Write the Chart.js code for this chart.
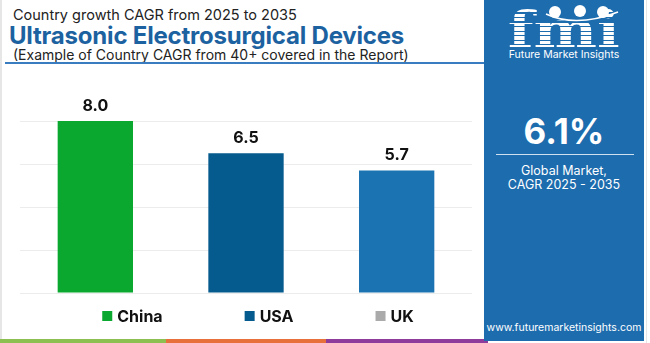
<!DOCTYPE html>
<html>
<head>
<meta charset="utf-8">
<script src="https://cdn.jsdelivr.net/npm/chart.js@4.4.1/dist/chart.umd.min.js"></script>
<style>
  html, body { margin: 0; padding: 0; background: #fff; }
  body { width: 650px; height: 343px; position: relative; overflow: hidden; font-family: Inter, "Open Sans", sans-serif; }
  .frame { position: absolute; left: 0; top: 0; width: 2px; height: 343px; background: #e6e6e6; }
  .head1 { position: absolute; left: 13px; top: 6px; font-size: 14.5px; color: #222; white-space: nowrap; }
  .head2 { position: absolute; left: 9px; top: 21px; font-size: 24px; font-weight: 700; color: #1c62a0; white-space: nowrap; letter-spacing: -0.2px; }
  .head3 { position: absolute; left: 13px; top: 46px; font-size: 14px; color: #222; white-space: nowrap; }
  .rule { position: absolute; left: 5px; top: 62px; width: 479px; height: 2px; background: #3a7cc0; }
  .chart { position: absolute; left: 0; top: 70px; width: 484px; height: 270px; }
  .stripe { position: absolute; top: 339px; height: 4px; }
  .panel { position: absolute; left: 484px; top: 0; width: 160px; height: 341px; background: #1d6cae; color: #fff; text-align: center; }
  .logo { position: absolute; left: 0; width: 160px; top: 5px; text-align: center; }
  .logo span { display: inline-block; font-family: "DejaVu Serif", serif; font-weight: 700; font-size: 50px; line-height: 50px;
          transform: scaleX(1.2); transform-origin: center;
          background: repeating-linear-gradient(180deg, #fff 0 3px, #1d6cae 3px 4.5px); -webkit-background-clip: text; background-clip: text; color: transparent; }
  .marks { position: absolute; left: 0; top: 0; }
  .brand { position: absolute; left: 0; width: 160px; top: 48px; font-size: 10.5px; }
  .big { position: absolute; left: 0; width: 160px; top: 110px; font-size: 35px; font-weight: 700; }
  .sep { position: absolute; left: 12px; width: 138px; top: 154px; height: 1px; background: #cfe0ef; }
  .sub { position: absolute; left: 0; width: 160px; top: 164px; font-size: 12.5px; line-height: 14px; }
  .url { position: absolute; left: 0; width: 160px; top: 321px; font-size: 10.5px; }
  .edge { position: absolute; left: 646px; top: 0; width: 1px; height: 343px; background: #e6e6e6; }
</style>
</head>
<body>
<div class="frame"></div>
<div class="head1">Country growth CAGR from 2025 to 2035</div>
<div class="head2">Ultrasonic Electrosurgical Devices</div>
<div class="head3">(Example of Country CAGR from 40+ covered in the Report)</div>
<div class="rule"></div>

<div class="chart"><canvas id="cagrChart"></canvas></div>

<div class="stripe" style="left:0;width:166px;background:#8cc152;"></div>
<div class="stripe" style="left:166px;width:160px;background:#e8703a;"></div>
<div class="stripe" style="left:326px;width:162px;background:#8e3b9c;"></div>

<div class="panel">
  <div class="logo"><span>fmi</span></div>
  <svg class="marks" width="160" height="30">
    <circle cx="71" cy="12" r="6" fill="#fff"/>
    <circle cx="96" cy="11" r="6" fill="#fff"/>
    <circle cx="119" cy="12" r="6" fill="#fff"/>
    <path d="M62 14 Q92 28 134 12" stroke="#fff" stroke-width="1.5" fill="none"/>
  </svg>
  <div class="brand">Future Market Insights</div>
  <div class="big">6.1%</div>
  <div class="sep"></div>
  <div class="sub">Global Market,<br>CAGR 2025 - 2035</div>
  <div class="url">www.futuremarketinsights.com</div>
</div>
<div class="edge"></div>

<script>
const countries = ['China', 'USA', 'UK'];
const cagr = [8.0, 6.5, 5.7];
const barColors = ['#0aa82e', '#055a8e', '#1b74b1'];
const legendColors = ['#0aa82e', '#055a8e', '#aaaaaa'];

// value labels above each bar
const valueLabels = {
  id: 'valueLabels',
  afterDatasetsDraw(chart) {
    const ctx = chart.ctx;
    const meta = chart.getDatasetMeta(0);
    ctx.save();
    ctx.font = 'bold 16px Inter, sans-serif';
    ctx.fillStyle = '#111';
    ctx.textAlign = 'center';
    ctx.textBaseline = 'middle';
    meta.data.forEach((bar, i) => {
      ctx.fillText(cagr[i].toFixed(1), bar.x, bar.y - 15);
    });
    ctx.restore();
  }
};

// one-row legend under the plot, wide gaps between entries
const legendRow = {
  id: 'legendRow',
  afterDraw(chart) {
    const ctx = chart.ctx;
    const area = chart.chartArea;
    const box = 10, gap = 5, spacing = 82;
    ctx.save();
    ctx.font = 'bold 16px Inter, sans-serif';
    ctx.textBaseline = 'middle';
    const widths = countries.map(c => box + gap + ctx.measureText(c).width);
    const total = widths.reduce((a, b) => a + b, 0) + spacing * (countries.length - 1);
    let x = (area.left + area.right) / 2 + 12 - total / 2;
    const y = area.bottom + 23;
    countries.forEach((c, i) => {
      ctx.fillStyle = legendColors[i];
      ctx.fillRect(x, y - box / 2, box, box);
      ctx.fillStyle = '#111';
      ctx.fillText(c, x + box + gap, y + 1);
      x += widths[i] + spacing;
    });
    ctx.restore();
  }
};

const ctx = document.getElementById('cagrChart').getContext('2d');
const cagrChart = new Chart(ctx, {
  type: 'bar',
  data: {
    labels: countries,
    datasets: [{
      label: 'CAGR',
      data: cagr,
      backgroundColor: barColors,
      categoryPercentage: 1,
      barPercentage: 0.5
    }]
  },
  options: {
    responsive: true,
    maintainAspectRatio: false,
    animation: false,
    layout: { padding: { left: 20, right: 12, top: 51, bottom: 47 } },
    scales: {
      x: { display: false },
      y: {
        min: 0, max: 8,
        ticks: { display: false, stepSize: 2 },
        grid: { color: '#ececec', drawTicks: false },
        border: { display: false }
      }
    },
    plugins: {
      tooltip: { enabled: false },
      legend: { display: false }
    }
  },
  plugins: [valueLabels, legendRow]
});
</script>
</body>
</html>
